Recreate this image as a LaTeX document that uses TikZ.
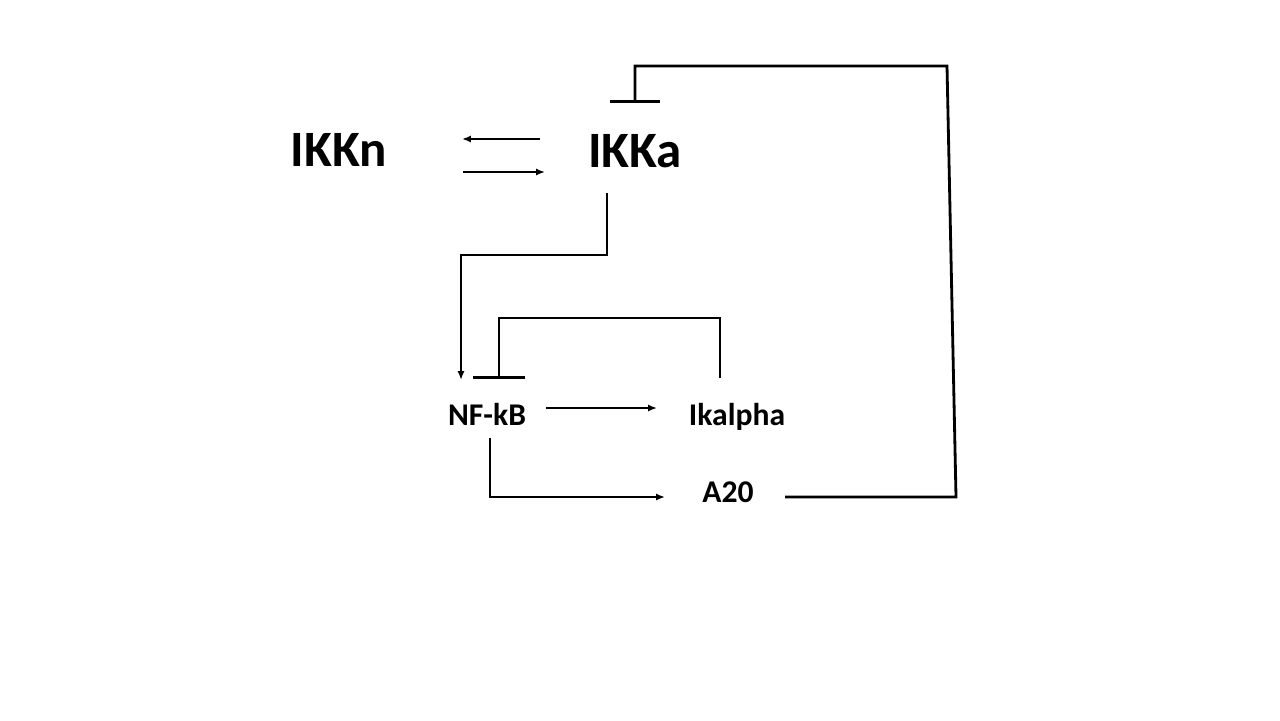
\documentclass[tikz,border=0pt]{standalone}
\usepackage{fontspec}
\setmainfont{Carlito}
\usetikzlibrary{arrows.meta}

\begin{document}
\begin{tikzpicture}[
    x=0.02cm, y=-0.02cm,
    >={Latex[length=5pt,width=4pt]},
    line width=1.6pt,
    big/.style={font=\fontsize{29}{32}\selectfont\bfseries, inner sep=0pt, anchor=base},
    small/.style={font=\fontsize{18}{20}\selectfont\bfseries, inner sep=0pt, anchor=base},
    inhibit/.style={-{Bar[width=30pt]}}
]
\useasboundingbox (0,0) rectangle (1280,720);

% Species
\node[big] (IKKn) at (339,166) {IKKn};
\node[big] (IKKa) at (635,167) {IKKa};
\node[small] (NFkB) at (487,425) {NF-kB};
\node[small] (Ikalpha) at (737,425) {Ikalpha};
\node[small] (A20) at (728,502) {A20};

% Connector ends
\coordinate (ka) at (540,139);
\coordinate (kn) at (462,139);
\coordinate (na) at (463,172);
\coordinate (an) at (545,172);

% IKKn <-> IKKa
\draw[->] (ka) -- (kn);
\draw[->] (na) -- (an);

% IKKa -> NF-kB
\draw[->] (607,193) -- (607,255) -- (461,255) -- (461,380);

% NF-kB -> Ikalpha
\draw[->] (546,408) -- (657,408);

% Ikalpha -| NF-kB
\draw[inhibit] (720,378) -- (720,318) -- (499,318) -- (499,379);

% NF-kB -> A20
\draw[->] (490,438) -- (490,497) -- (665,497);

% A20 -| IKKa
\draw[-{Bar[width=29pt]}] (785,497) -- (956,497) -- (947,66) -- (635,66) -- (635,103);

\end{tikzpicture}
\end{document}
